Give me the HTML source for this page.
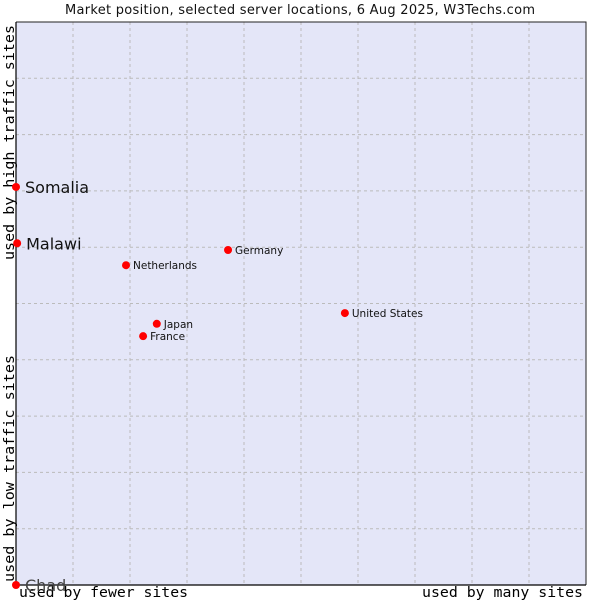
<!DOCTYPE html>
<html><head><meta charset="utf-8"><style>
body{margin:0;background:#fff;}
svg{display:block;font-family:"DejaVu Sans","Liberation Sans",sans-serif;}
.mono{font-family:"DejaVu Sans Mono","Liberation Mono",monospace;}
</style></head><body>
<svg id="chart" width="600" height="600">
<text x="300" y="14" text-anchor="middle" font-size="13" fill="#111" textLength="470">Market position, selected server locations, 6 Aug 2025, W3Techs.com</text>
<rect x="16" y="22" width="570" height="563" fill="#e4e6f8"/>
<g id="grid"></g>
<path d="M16 22 H586 V585" fill="none" stroke="#222" stroke-width="1"/>
<path d="M16 22 V585 H586" fill="none" stroke="#000" stroke-width="1.2"/>
<text class="mono" x="19" y="597" font-size="14.5" fill="#000" textLength="169" lengthAdjust="spacingAndGlyphs">used by fewer sites</text>
<text class="mono" x="422" y="597" font-size="14.5" fill="#000" textLength="161" lengthAdjust="spacingAndGlyphs">used by many sites</text>
<text class="mono" transform="translate(14,260) rotate(-90)" font-size="14.5" fill="#000" textLength="235" lengthAdjust="spacingAndGlyphs">used by high traffic sites</text>
<text class="mono" transform="translate(14,582) rotate(-90)" font-size="14.5" fill="#000" textLength="227" lengthAdjust="spacingAndGlyphs">used by low traffic sites</text>
<g id="points"></g>
</svg>
<script>
const names=["Somalia","Malawi","Netherlands","Germany","United States","Japan","France","Chad"];
const xVals=[0,0.2,19.3,37.2,57.7,24.7,22.3,0];
const yVals=[70.7,60.7,56.8,59.5,48.3,46.4,44.2,0];
const bigLabel=[true,true,false,false,false,false,false,true];
const NS="http://www.w3.org/2000/svg";
const X=v=>16+v*5.7, Y=v=>585-v*5.63;
const grid=document.getElementById('grid');
for(let i=1;i<10;i++){
 const l=document.createElementNS(NS,'line');
 l.setAttribute('x1',X(i*10));l.setAttribute('x2',X(i*10));l.setAttribute('y1',22);l.setAttribute('y2',585);
 l.setAttribute('stroke','#bbb');l.setAttribute('stroke-dasharray','3,3');
 
 
 grid.appendChild(l);
 const h=document.createElementNS(NS,'line');
 h.setAttribute('y1',Y(i*10));h.setAttribute('y2',Y(i*10));h.setAttribute('x1',16);h.setAttribute('x2',586);
 h.setAttribute('stroke','#bbb');h.setAttribute('stroke-dasharray','3,3');
 
 
 grid.appendChild(h);
}
const pts=document.getElementById('points');
names.forEach((n,i)=>{
 const cx=X(xVals[i]),cy=Y(yVals[i]);
 const c=document.createElementNS(NS,'circle');
 c.setAttribute('cx',cx);c.setAttribute('cy',cy);c.setAttribute('r',4);c.setAttribute('fill','#f00');
 
 
 pts.appendChild(c);
 const t=document.createElementNS(NS,'text');
 const big=bigLabel[i];
 t.setAttribute('x',cx+(big?9:7));t.setAttribute('y',cy+(big?6:4));
 t.setAttribute('font-size',big?16:10.5);
 t.setAttribute('fill',n==="Chad"?'#444':'#111');
 t.textContent=n;
 
 
 pts.appendChild(t);
});
</script>
</body></html>
